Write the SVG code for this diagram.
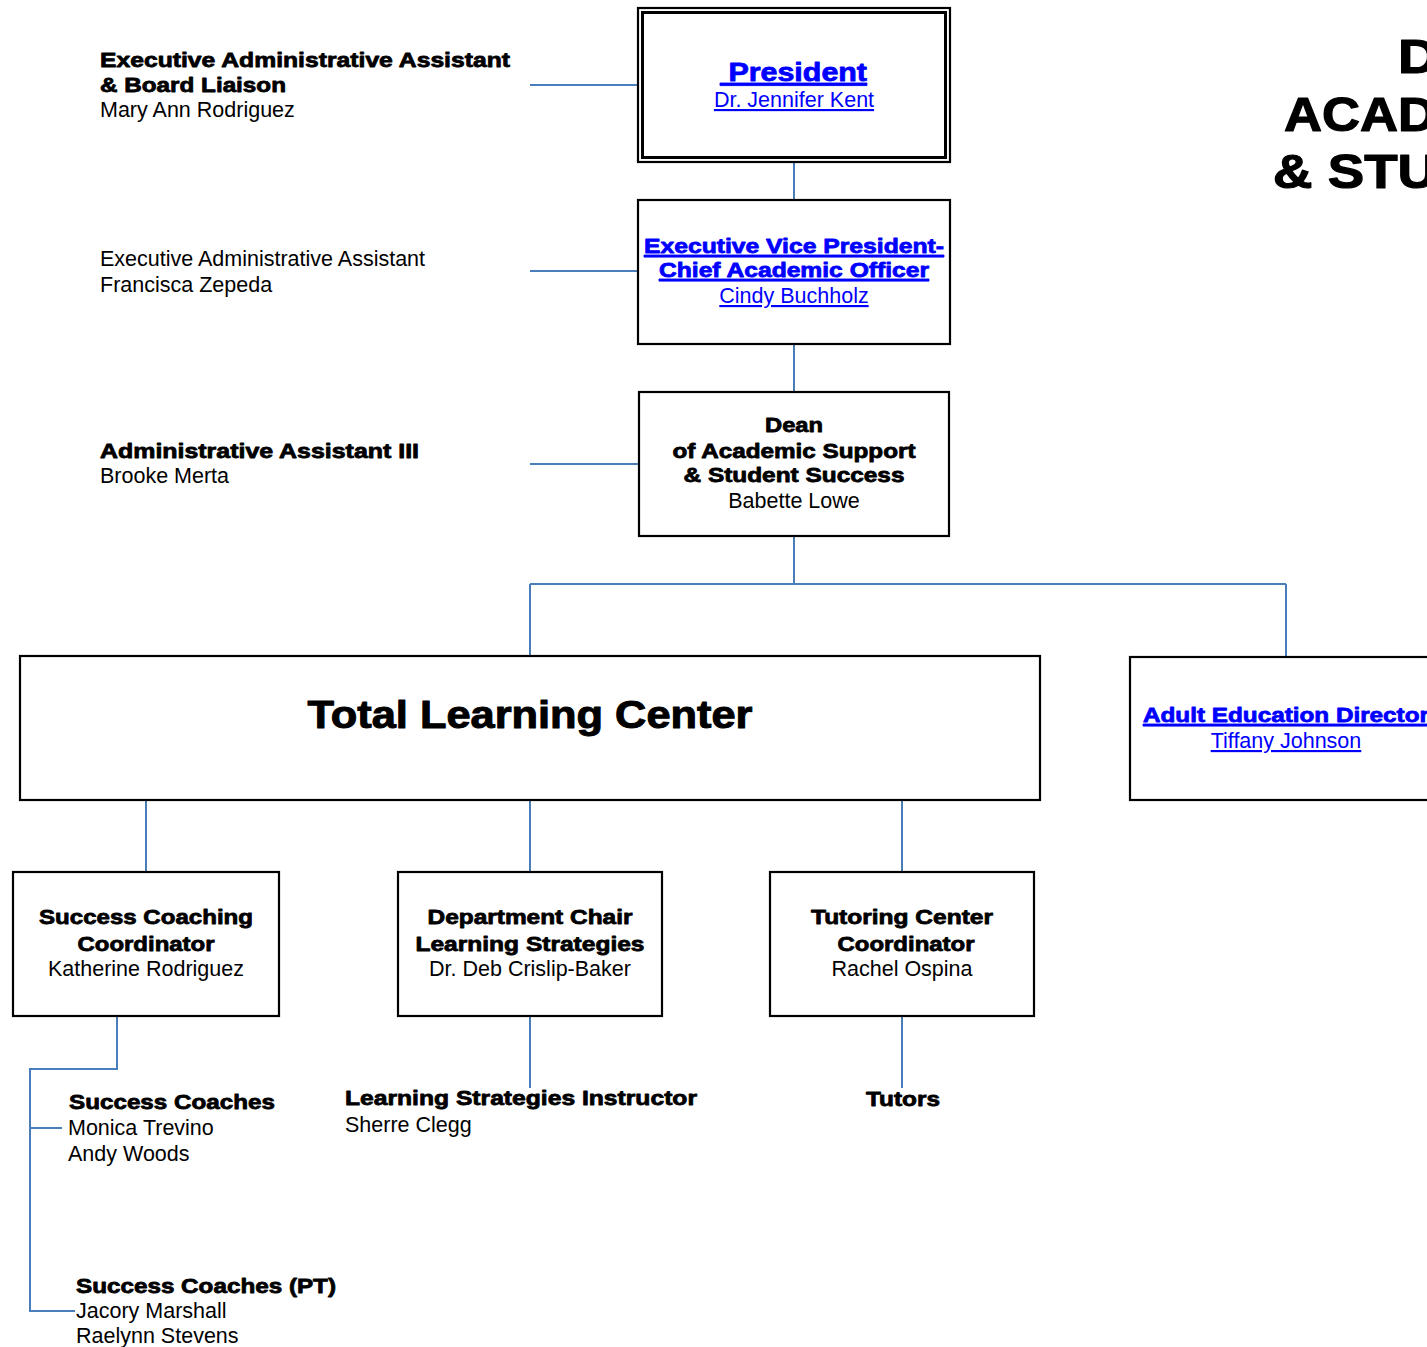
<svg xmlns="http://www.w3.org/2000/svg" width="1427" height="1347" viewBox="0 0 1427 1347">
<style>
.bx{fill:#fff;stroke:#000;stroke-width:2.2}
.cn{fill:none;stroke:#4A7EBB;stroke-width:2}
.b{font-family:"Liberation Sans",Arial,sans-serif;font-weight:bold;font-size:21px;stroke-width:0.8px;stroke-linejoin:round}
.k{fill:#000;stroke:#000}
.l{fill:#0000FF;stroke:#0000FF;text-decoration:underline}
.r{font-family:"Liberation Sans",Arial,sans-serif;font-size:21.5px;fill:#000}
.rl{font-family:"Liberation Sans",Arial,sans-serif;font-size:21.5px;fill:#0000FF;text-decoration:underline}
.c{text-anchor:middle}
.t{font-size:48px;stroke-width:1.2px}
</style>
<rect width="1427" height="1347" fill="#fff"/>
<g id="connectors">
<path class="cn" d="M530 85H638M794 162V200M530 271H638M794 344V392M530 464H639M794 536V584M530 584H1286M530 584V656M1286 584V657M146 800V872M530 800V872M902 800V872M117 1016H146M117 1016V1069H30V1311H75M30 1128H62M530 1016V1088M902 1016V1088"/>
</g>
<g id="title">
<text class="b k t" x="1398" y="73" textLength="40" lengthAdjust="spacingAndGlyphs">D</text>
<text class="b k t" x="1284" y="131" textLength="152" lengthAdjust="spacingAndGlyphs">ACAD</text>
<text class="b k t" x="1273" y="188" textLength="164" lengthAdjust="spacingAndGlyphs">&amp; STU</text>
</g>
<g id="president">
<rect class="bx" x="638" y="8" width="312" height="154"/>
<rect x="642.5" y="12.5" width="303" height="145" fill="none" stroke="#000" stroke-width="3"/>
<text class="b l" style="font-size:26px" x="720" y="81" textLength="147" lengthAdjust="spacingAndGlyphs">&#160;President</text>
<text class="rl c" x="794" y="107">Dr. Jennifer Kent</text>
</g>
<g id="evp">
<rect class="bx" x="638" y="200" width="312" height="144"/>
<text class="b l c" x="794" y="253" textLength="300" lengthAdjust="spacingAndGlyphs">Executive Vice President-</text>
<text class="b l c" x="794" y="277" textLength="270" lengthAdjust="spacingAndGlyphs">Chief Academic Officer</text>
<text class="rl c" x="794" y="303">Cindy Buchholz</text>
</g>
<g id="dean">
<rect class="bx" x="639" y="392" width="310" height="144"/>
<text class="b k c" x="794" y="432" textLength="58" lengthAdjust="spacingAndGlyphs">Dean</text>
<text class="b k c" x="794" y="458" textLength="243" lengthAdjust="spacingAndGlyphs">of Academic Support</text>
<text class="b k c" x="794" y="482" textLength="221" lengthAdjust="spacingAndGlyphs">&amp; Student Success</text>
<text class="r c" x="794" y="508">Babette Lowe</text>
</g>
<g id="assistant1">
<text class="b k" x="100" y="67" textLength="410" lengthAdjust="spacingAndGlyphs">Executive Administrative Assistant</text>
<text class="b k" x="100" y="92" textLength="186" lengthAdjust="spacingAndGlyphs">&amp; Board Liaison</text>
<text class="r" x="100" y="117">Mary Ann Rodriguez</text>
</g>
<g id="assistant2">
<text class="r" x="100" y="266">Executive Administrative Assistant</text>
<text class="r" x="100" y="292">Francisca Zepeda</text>
</g>
<g id="assistant3">
<text class="b k" x="100" y="458" textLength="319" lengthAdjust="spacingAndGlyphs">Administrative Assistant III</text>
<text class="r" x="100" y="483">Brooke Merta</text>
</g>
<g id="tlc">
<rect class="bx" x="20" y="656" width="1020" height="144"/>
<text class="b k c" style="font-size:38px;stroke-width:1px" x="530" y="728" textLength="445" lengthAdjust="spacingAndGlyphs">Total Learning Center</text>
</g>
<g id="adulted">
<rect class="bx" x="1130" y="657" width="320" height="143"/>
<text class="b l c" x="1286" y="722" textLength="286" lengthAdjust="spacingAndGlyphs">Adult Education Director</text>
<text class="rl c" x="1286" y="748">Tiffany Johnson</text>
</g>
<g id="sccoord">
<rect class="bx" x="13" y="872" width="266" height="144"/>
<text class="b k c" x="146" y="924" textLength="214" lengthAdjust="spacingAndGlyphs">Success Coaching</text>
<text class="b k c" x="146" y="951" textLength="137" lengthAdjust="spacingAndGlyphs">Coordinator</text>
<text class="r c" x="146" y="976">Katherine Rodriguez</text>
</g>
<g id="deptchair">
<rect class="bx" x="398" y="872" width="264" height="144"/>
<text class="b k c" x="530" y="924" textLength="205" lengthAdjust="spacingAndGlyphs">Department Chair</text>
<text class="b k c" x="530" y="951" textLength="229" lengthAdjust="spacingAndGlyphs">Learning Strategies</text>
<text class="r c" x="530" y="976">Dr. Deb Crislip-Baker</text>
</g>
<g id="tutoring">
<rect class="bx" x="770" y="872" width="264" height="144"/>
<text class="b k c" x="902" y="924" textLength="182" lengthAdjust="spacingAndGlyphs">Tutoring Center</text>
<text class="b k c" x="906" y="951" textLength="137" lengthAdjust="spacingAndGlyphs">Coordinator</text>
<text class="r c" x="902" y="976">Rachel Ospina</text>
</g>
<g id="coaches">
<text class="b k" x="69" y="1109" textLength="206" lengthAdjust="spacingAndGlyphs">Success Coaches</text>
<text class="r" x="68" y="1135">Monica Trevino</text>
<text class="r" x="68" y="1161">Andy Woods</text>
</g>
<g id="coachespt">
<text class="b k" x="76" y="1293" textLength="260" lengthAdjust="spacingAndGlyphs">Success Coaches (PT)</text>
<text class="r" x="76" y="1318">Jacory Marshall</text>
<text class="r" x="76" y="1343">Raelynn Stevens</text>
</g>
<g id="instructor">
<text class="b k" x="345" y="1105" textLength="352" lengthAdjust="spacingAndGlyphs">Learning Strategies Instructor</text>
<text class="r" x="345" y="1132">Sherre Clegg</text>
</g>
<g id="tutors">
<text class="b k c" x="903" y="1106" textLength="74" lengthAdjust="spacingAndGlyphs">Tutors</text>
</g>
</svg>
